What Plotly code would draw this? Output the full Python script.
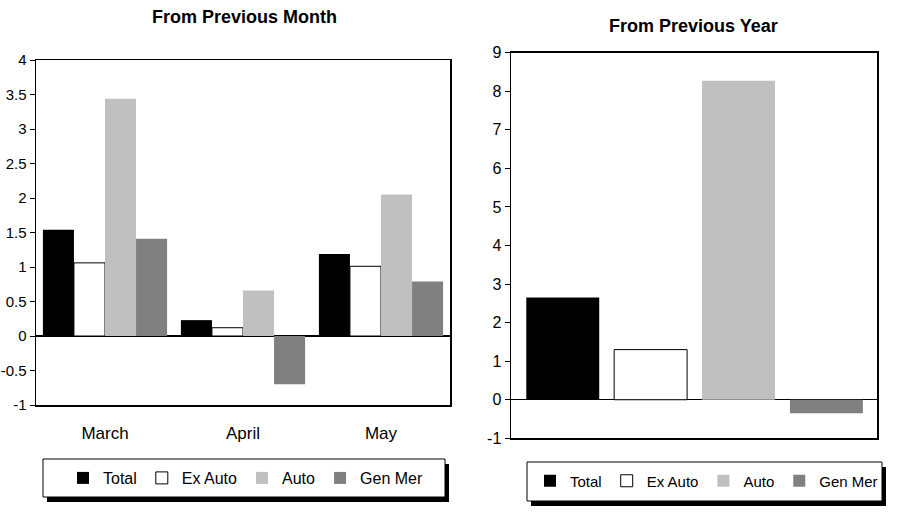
import plotly.graph_objects as go

# ---------------- data ----------------
months = ["March", "April", "May"]
series_names = ["Total", "Ex Auto", "Auto", "Gen Mer"]
month_total = [1.54, 0.23, 1.19]
month_exauto = [1.06, 0.12, 1.01]
month_auto = [3.44, 0.66, 2.05]
month_genmer = [1.41, -0.70, 0.79]
year_values = [2.65, 1.30, 8.27, -0.35]  # Total, Ex Auto, Auto, Gen Mer

left_tickvals = [-1, -0.5, 0, 0.5, 1, 1.5, 2, 2.5, 3, 3.5, 4]
left_ticktext = ["-1", "-0.5", "0", "0.5", "1", "1.5", "2", "2.5", "3", "3.5", "4"]
right_tickvals = [-1, 0, 1, 2, 3, 4, 5, 6, 7, 8, 9]
right_ticktext = ["-1", "0", "1", "2", "3", "4", "5", "6", "7", "8", "9"]

left_title = "From Previous Month"
right_title = "From Previous Year"

# ---------------- styles ----------------
W, H = 899, 519
FONT = "Liberation Sans, Arial, sans-serif"
fill_colors = ["#000000", "#ffffff", "#c0c0c0", "#808080"]
line_widths = [0, 1, 0, 0]


def px(x):
    return x / W


def py(y):
    return 1 - y / H


fig = go.Figure()

month_series = [month_total, month_exauto, month_auto, month_genmer]
for name, vals, col, lw in zip(series_names, month_series, fill_colors, line_widths):
    fig.add_trace(go.Bar(
        x=months, y=vals, name=name, xaxis="x", yaxis="y",
        marker=dict(color=col, line=dict(color="#000000", width=lw)),
        legend="legend", offsetgroup="L" + name,
    ))

for name, val, col, lw in zip(series_names, year_values, fill_colors, line_widths):
    fig.add_trace(go.Bar(
        x=[name], y=[val], name=name, xaxis="x2", yaxis="y2",
        marker=dict(color=col, line=dict(color="#000000", width=lw)),
        legend="legend2", offsetgroup="R", width=0.83,
    ))

axis_common = dict(showline=True, linecolor="#000000", linewidth=1.5, mirror=True,
                   showgrid=False, automargin=False)

legend_common = dict(orientation="h", xanchor="left", yanchor="middle",
                     bgcolor="rgba(0,0,0,0)", borderwidth=0,
                     itemwidth=30, itemclick=False, itemdoubleclick=False)

fig.update_layout(
    width=W, height=H,
    margin=dict(l=0, r=0, t=0, b=0, autoexpand=False),
    paper_bgcolor="#ffffff", plot_bgcolor="#ffffff",
    font=dict(family=FONT, size=16, color="#000000"),
    barmode="group", bargap=0.1, bargroupgap=0.0,
    showlegend=True,
    xaxis=dict(domain=[px(36), px(450)], anchor="y", type="category",
               ticks="", ticklabelstandoff=12, tickfont=dict(size=17),
               zeroline=False, **axis_common),
    yaxis=dict(domain=[py(405), py(60)], anchor="x", range=[-1, 4],
               tickvals=left_tickvals, ticktext=left_ticktext,
               ticks="outside", ticklen=5, tickcolor="#000000", tickwidth=1,
               tickfont=dict(size=15),
               zeroline=True, zerolinecolor="#000000", zerolinewidth=1.5,
               **axis_common),
    xaxis2=dict(domain=[px(511), px(877)], anchor="y2", type="category",
                range=[-0.589, 3.576], showticklabels=False, ticks="",
                zeroline=False, **axis_common),
    yaxis2=dict(domain=[py(438.3), py(52.7)], anchor="x2", range=[-1, 9],
                tickvals=right_tickvals, ticktext=right_ticktext,
                ticks="outside", ticklen=5, tickcolor="#000000", tickwidth=1,
                tickfont=dict(size=16),
                zeroline=True, zerolinecolor="#000000", zerolinewidth=1.5,
                **axis_common),
    legend=dict(x=px(63), y=py(478), font=dict(size=16), **legend_common),
    legend2=dict(x=px(530), y=py(481), font=dict(size=15), **legend_common),
    annotations=[
        dict(text="<b>%s</b>" % left_title, x=px(244), y=py(17), xref="paper", yref="paper",
             showarrow=False, xanchor="center", yanchor="middle", font=dict(size=18)),
        dict(text="<b>%s</b>" % right_title, x=px(693.5), y=py(26), xref="paper", yref="paper",
             showarrow=False, xanchor="center", yanchor="middle", font=dict(size=18)),
    ],
    shapes=[
        # left legend shadow + box
        dict(type="rect", xref="paper", yref="paper", x0=px(47), x1=px(449), y0=py(502), y1=py(464),
             fillcolor="#000000", line=dict(width=0), layer="above"),
        dict(type="rect", xref="paper", yref="paper", x0=px(43), x1=px(445), y0=py(497), y1=py(459),
             fillcolor="#ffffff", line=dict(color="#000000", width=1), layer="above"),
        # right legend shadow + box
        dict(type="rect", xref="paper", yref="paper", x0=px(531), x1=px(886), y0=py(506), y1=py(467),
             fillcolor="#000000", line=dict(width=0), layer="above"),
        dict(type="rect", xref="paper", yref="paper", x0=px(527), x1=px(882), y0=py(501), y1=py(462),
             fillcolor="#ffffff", line=dict(color="#000000", width=1), layer="above"),
    ],
)

fig.write_html(
    "out.html",
    config={"displayModeBar": False, "staticPlot": True},
    post_script="document.body.style.margin='0';document.body.style.overflow='hidden';",
)
